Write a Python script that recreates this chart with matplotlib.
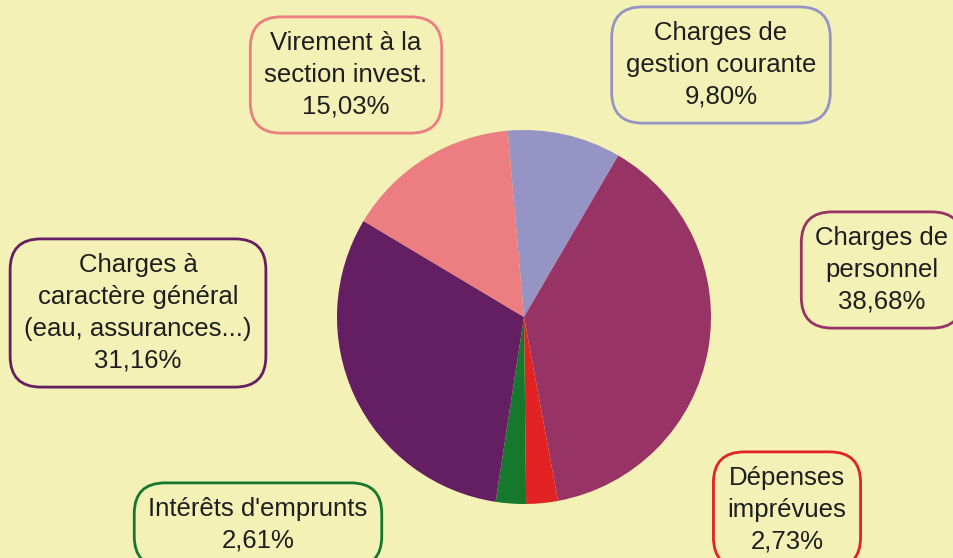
import matplotlib.pyplot as plt

labels = ["Charges de\ngestion courante", "Charges de\npersonnel", "Dépenses\nimprévues",
          "Intérêts d'emprunts", "Charges à\ncaractère général\n(eau, assurances...)",
          "Virement à la\nsection invest."]
values = [9.80, 38.68, 2.73, 2.61, 31.16, 15.03]
colors = ["#9594c4", "#983366", "#e12423", "#15782c", "#641f63", "#ec7d80"]
# label box centres, in pixels from the top-left corner
label_pos = [(721, 65), (882, 270), (787, 510), (258, 525), (138, 313), (346, 75)]

W, H = 954, 558
plt.rcParams['font.family'] = ['Liberation Sans', 'DejaVu Sans']
fig = plt.figure(figsize=(W / 100, H / 100), dpi=100)
fig.patch.set_facecolor("#f3f1b5")
ax = fig.add_axes([0, 0, 1, 1])
ax.set_facecolor("#f3f1b5")

ax.pie(values, colors=colors, startangle=95, counterclock=False,
       center=(524, H - 317), radius=187, wedgeprops=dict(linewidth=0))
ax.set_xlim(0, W)
ax.set_ylim(0, H)
ax.axis("off")

for lab, v, c, (x, y) in zip(labels, values, colors, label_pos):
    txt = lab + "\n" + f"{v:.2f}%".replace(".", ",")
    ax.text(x, H - y, txt, ha="center", va="center", fontsize=18.5, color="#1e1e1e",
            linespacing=1.42,
            bbox=dict(boxstyle="round,pad=0.55,rounding_size=1.2", fc="#f3f1b5", ec=c, lw=2))

plt.savefig("out.png", dpi=100, facecolor=fig.get_facecolor())
